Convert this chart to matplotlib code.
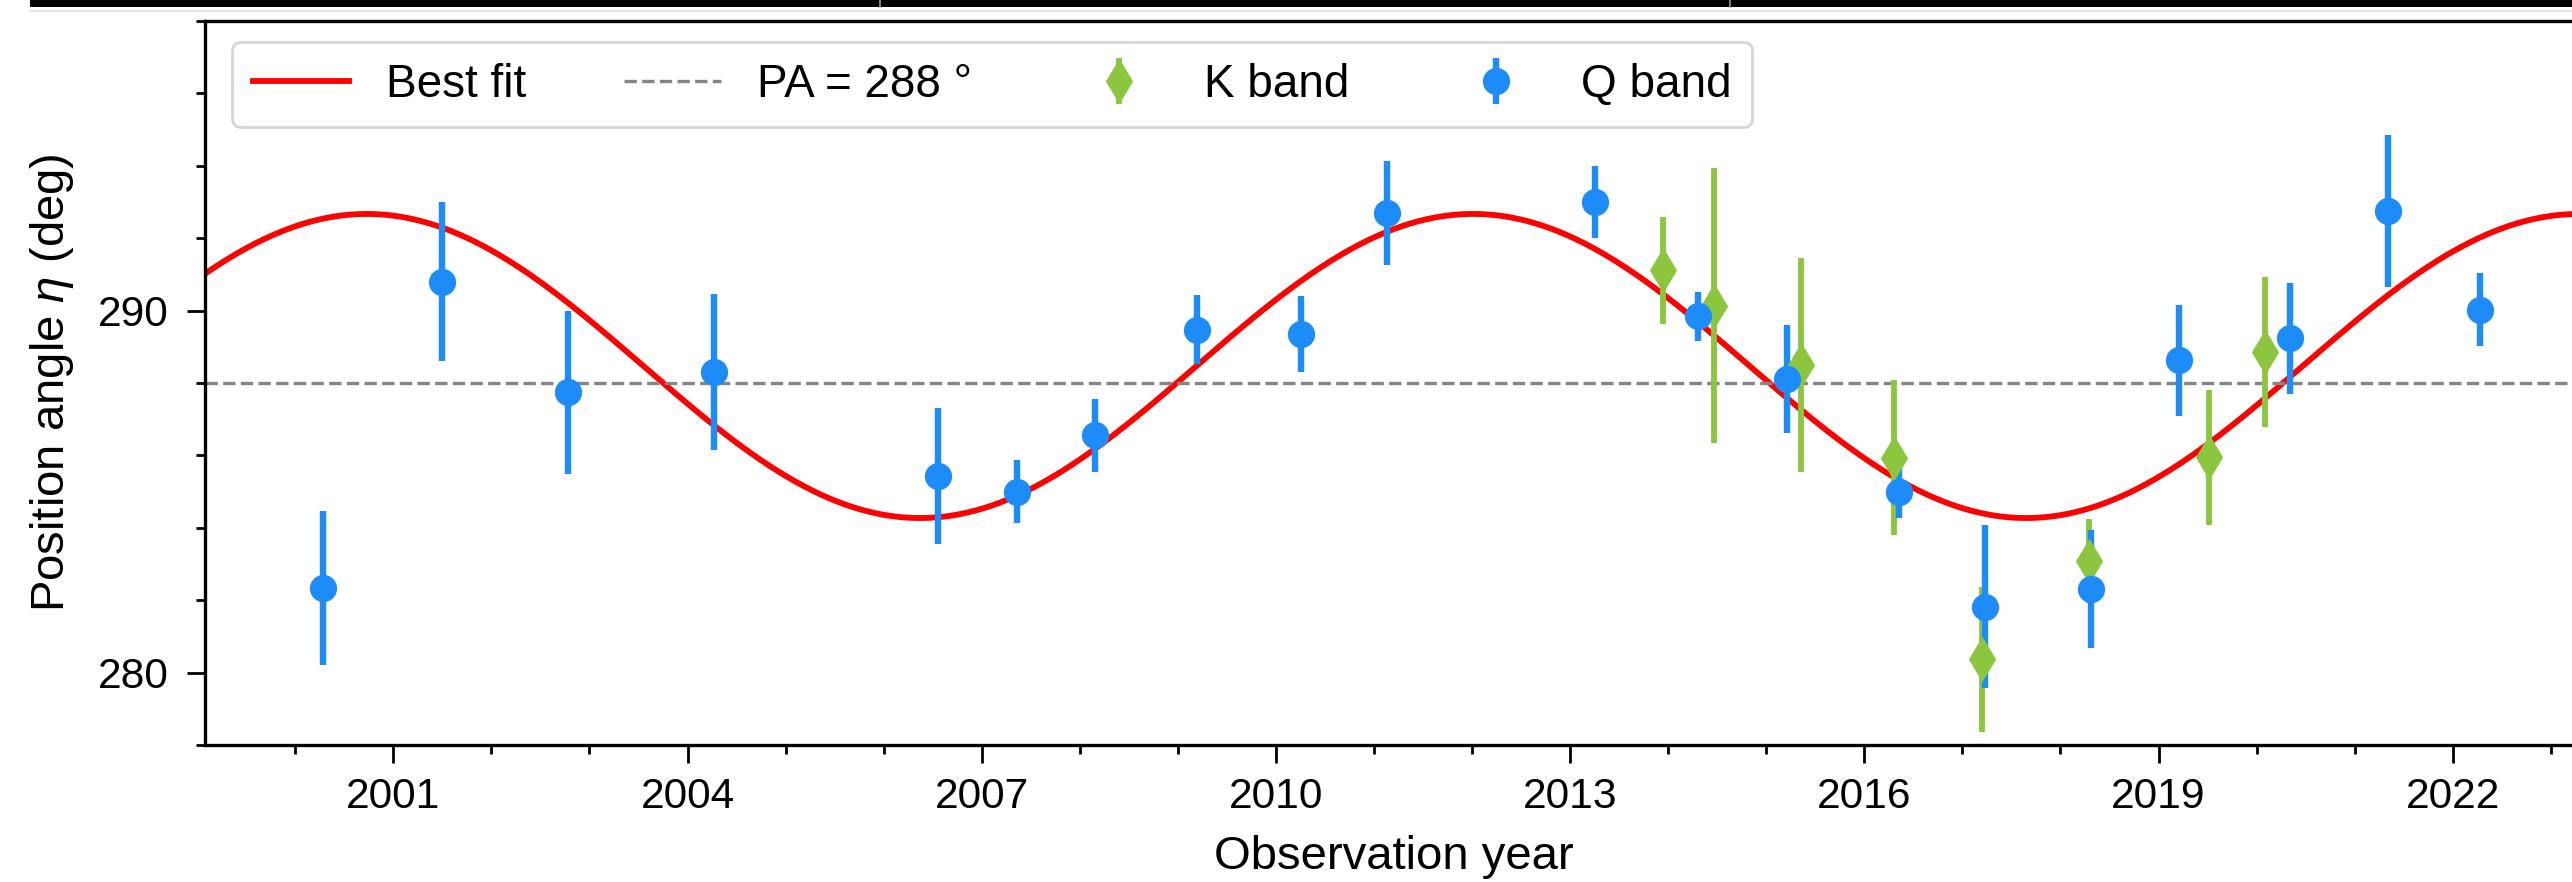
import numpy as np
import matplotlib
matplotlib.use("Agg")
import matplotlib.pyplot as plt
from matplotlib.ticker import MultipleLocator
from matplotlib.patches import Rectangle
from matplotlib.lines import Line2D

# ---- measurements -------------------------------------------------------
# Q band
q_year = [2000.28, 2001.50, 2002.78, 2004.27, 2006.55, 2007.36, 2008.16,
          2009.20, 2010.26, 2011.13, 2013.25, 2014.30, 2015.21, 2016.35,
          2017.23, 2018.31, 2019.21, 2020.34, 2021.34, 2022.28]
q_pa = [282.34, 290.80, 287.74, 288.31, 285.42, 285.00, 286.55,
        289.47, 289.35, 292.69, 293.00, 289.84, 288.10, 285.00,
        281.82, 282.31, 288.63, 289.23, 292.75, 290.03]
q_err = [2.12, 2.20, 2.24, 2.15, 1.88, 0.87, 1.00,
         0.95, 1.05, 1.44, 1.00, 0.67, 1.49, 0.72,
         2.25, 1.64, 1.53, 1.54, 2.10, 1.00]

# K band
k_year = [2013.95, 2014.47, 2015.35, 2016.30, 2017.20, 2018.29, 2019.51, 2020.09]
k_pa = [291.11, 290.13, 288.49, 285.94, 280.37, 283.07, 285.95, 288.85]
k_err = [1.48, 3.80, 2.95, 2.15, 2.00, 1.16, 1.86, 2.07]

# sinusoidal best-fit model: mean, amplitude, period (yr), epoch of maximum
fit_mean = 288.47
fit_amp = 4.20
fit_period = 11.28
fit_peak = 2012.01

pa_ref = 288.0  # reference position angle

# ---- style --------------------------------------------------------------
plt.rcParams["font.family"] = ["Liberation Sans", "DejaVu Sans"]
plt.rcParams["mathtext.fontset"] = "custom"
plt.rcParams["mathtext.rm"] = "Liberation Sans"
plt.rcParams["mathtext.it"] = "Liberation Sans:italic"

BLUE = "#1e8cf8"
GREEN = "#8cc63f"
RED = "#ff0000"

W, H, DPI = 2572, 882, 200
fig = plt.figure(figsize=(W / DPI, H / DPI), dpi=DPI)

# axes geometry (pixels)
ax_l, ax_r, ax_t, ax_b = 205, 2583, 21, 745
ax = fig.add_axes([ax_l / W, 1 - ax_b / H, (ax_r - ax_l) / W, (ax_b - ax_t) / H])

# strip along the top edge of the figure
fig.patches.append(Rectangle((30 / W, 1 - 7 / H), 1 - 30 / W, 7 / H,
                             transform=fig.transFigure, facecolor="black",
                             edgecolor="none", zorder=0))
for gx in (880, 1730):
    fig.lines.append(Line2D([gx / W, gx / W], [1 - 7 / H, 1], transform=fig.transFigure,
                            color="#9a9a9a", lw=0.6))
fig.lines.append(Line2D([30 / W, 1], [1 - 10.5 / H, 1 - 10.5 / H], transform=fig.transFigure,
                        color="#e6e6e6", lw=0.8))

# ---- plot ---------------------------------------------------------------
x0, x1 = 1999.08, 1999.08 + (ax_r - ax_l) / 98.07
t = np.linspace(x0, x1, 1200)
model = fit_mean + fit_amp * np.cos(2 * np.pi * (t - fit_peak) / fit_period)

ax.plot(t, model, color=RED, lw=2.1, label="Best fit", zorder=2)
ax.axhline(pa_ref, color="#858585", lw=1.2, ls="--", label="PA = 288 °", zorder=2)

ax.errorbar(k_year, k_pa, yerr=k_err, fmt="d", color=GREEN, ms=10,
            elinewidth=2.1, capsize=0, label="K band", zorder=3)
ax.errorbar(q_year, q_pa, yerr=q_err, fmt="o", color=BLUE, ms=8.8,
            elinewidth=2.3, capsize=0, label="Q band", zorder=3)

ax.set_xlim(x0, x1)
ax.set_ylim(278, 298)

ax.xaxis.set_major_locator(MultipleLocator(3))
ax.xaxis.set_minor_locator(MultipleLocator(1))
ax.yaxis.set_major_locator(MultipleLocator(10))
ax.yaxis.set_minor_locator(MultipleLocator(2))

ax.tick_params(which="major", length=6.5, width=1.0, labelsize=15.3)
ax.tick_params(axis="x", which="major", pad=5.0)
ax.tick_params(axis="y", which="major", pad=6.5)
ax.tick_params(which="minor", length=3.4, width=1.0)
for s in ax.spines.values():
    s.set_linewidth(1.2)

ax.set_xlabel("Observation year", fontsize=17, labelpad=6.5)
ax.set_ylabel("Position angle $\\eta$ (deg)", fontsize=17, labelpad=8)

leg = ax.legend(loc="upper left", ncol=4, fontsize=16.5,
                bbox_to_anchor=((232 - ax_l) / (ax_r - ax_l), (ax_b - 42) / (ax_b - ax_t)),
                borderaxespad=0, handlelength=2.1, handletextpad=0.8,
                columnspacing=2.15, borderpad=0.45, frameon=True)
leg.get_frame().set_edgecolor("#cccccc")
leg.get_frame().set_linewidth(1.0)

fig.savefig("out.png", dpi=DPI)
